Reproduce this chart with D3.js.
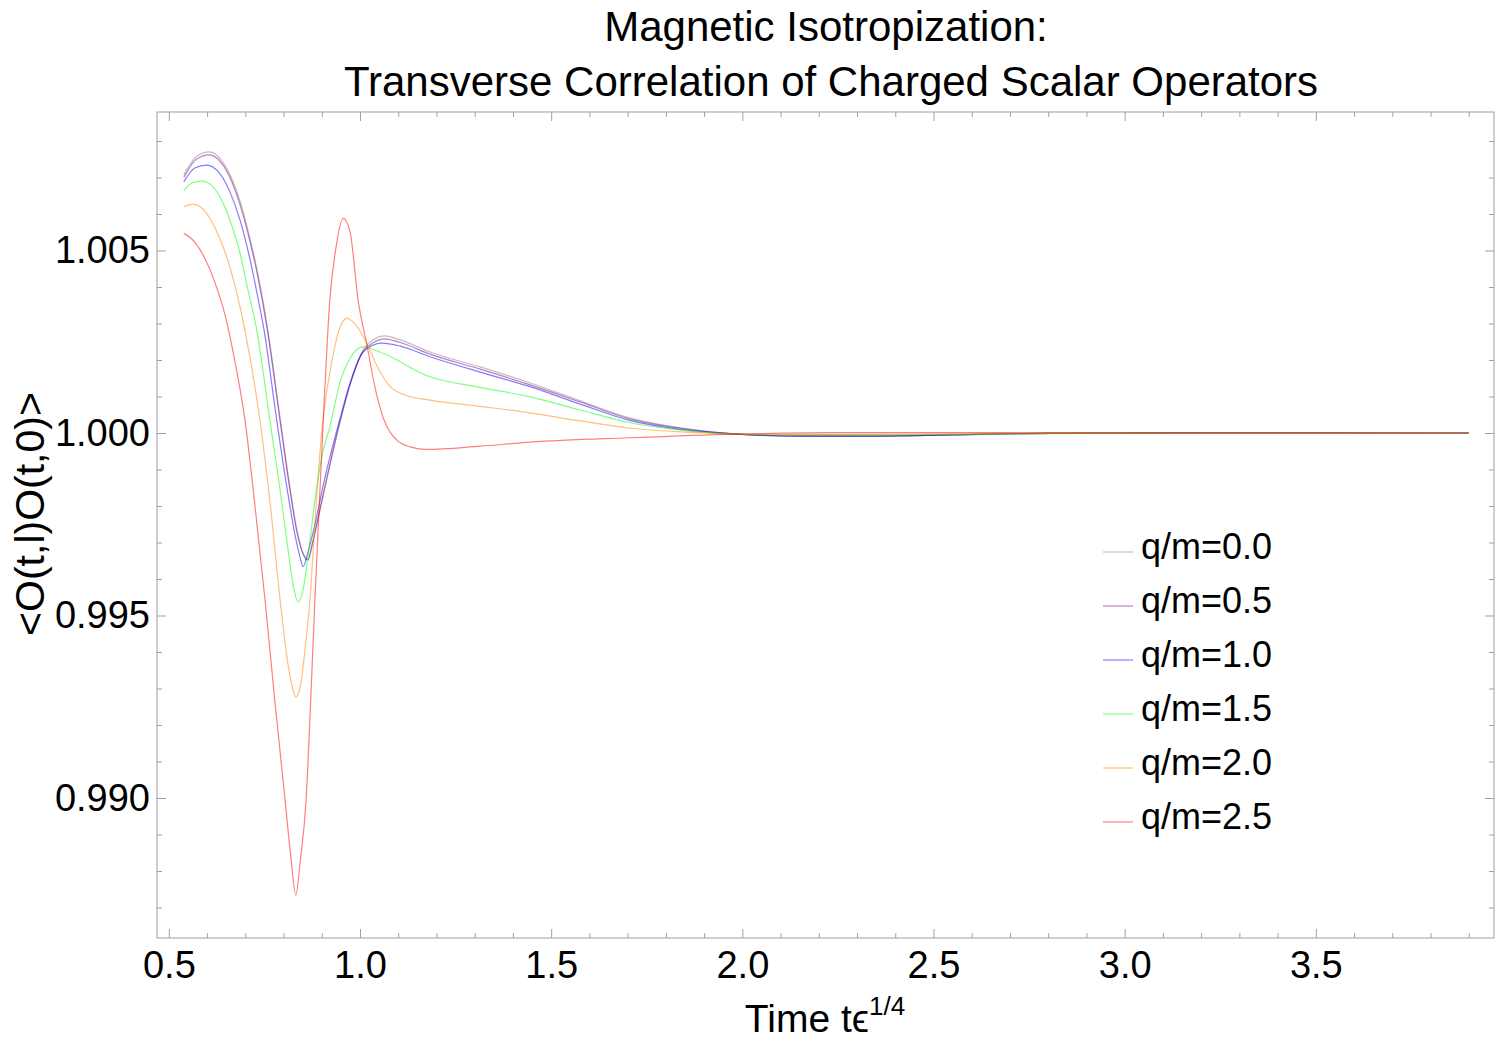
<!DOCTYPE html>
<html>
<head>
<meta charset="utf-8">
<script src="https://cdn.jsdelivr.net/npm/d3@7"></script>
<style>
  html, body { margin: 0; padding: 0; background: #fff; }
  svg { display: block; font-family: "Liberation Sans", Arial, sans-serif; }
</style>
</head>
<body>
<svg id="chart" width="1500" height="1044"></svg>
<script>
// ---------------- data (t, value) ----------------
const seriesNames = ["q/m=0.0", "q/m=0.5", "q/m=1.0", "q/m=1.5", "q/m=2.0", "q/m=2.5"];

const q00 = [
  [0.539,1.00707],[0.571,1.00756],[0.605,1.00770],[0.639,1.00745],[0.665,1.00696],
  [0.686,1.00636],[0.712,1.00534],[0.733,1.00436],[0.759,1.00282],[0.791,1.00041],
  [0.817,0.99849],[0.835,0.99734],[0.851,0.99671],[0.864,0.99652],[0.877,0.99701],
  [0.890,0.99762],[0.914,0.99877],[0.948,1.00030],[0.974,1.00132],[1.008,1.00227],
  [1.034,1.00255],[1.065,1.00266],[1.105,1.00255],[1.183,1.00222],[1.314,1.00181],
  [1.445,1.00137],[1.576,1.00088],[1.707,1.00041],[1.838,1.00014],[1.987,0.99997],
  [2.152,0.99992],[2.361,0.99992],[2.545,0.99995],[2.806,0.99999],[3.199,1.00000],[3.900,1.00000]
];
const q05 = [
  [0.539,1.00700],[0.571,1.00749],[0.605,1.00762],[0.639,1.00738],[0.665,1.00688],
  [0.685,1.00630],[0.711,1.00530],[0.732,1.00432],[0.758,1.00280],[0.790,1.00040],
  [0.816,0.99849],[0.834,0.99734],[0.850,0.99671],[0.863,0.99652],[0.876,0.99701],
  [0.889,0.99762],[0.913,0.99877],[0.947,1.00030],[0.973,1.00130],[1.008,1.00223],
  [1.034,1.00247],[1.065,1.00258],[1.105,1.00248],[1.183,1.00216],[1.314,1.00175],
  [1.445,1.00132],[1.576,1.00085],[1.707,1.00038],[1.838,1.00013],[1.987,0.99997],
  [2.152,0.99992],[2.361,0.99992],[2.545,0.99995],[2.806,0.99999],[3.199,1.00000],[3.900,1.00000]
];
const q10 = [
  [0.539,1.00688],[0.568,1.00726],[0.599,1.00734],[0.634,1.00710],[0.660,1.00660],
  [0.686,1.00584],[0.712,1.00477],[0.730,1.00386],[0.749,1.00282],[0.782,1.00036],
  [0.809,0.99849],[0.830,0.99721],[0.843,0.99660],[0.851,0.99634],[0.864,0.99674],
  [0.880,0.99740],[0.908,0.99877],[0.948,1.00041],[0.974,1.00137],[1.008,1.00222],
  [1.057,1.00246],[1.105,1.00238],[1.183,1.00209],[1.314,1.00167],[1.445,1.00127],
  [1.576,1.00079],[1.707,1.00034],[1.838,1.00010],[1.987,0.99997],[2.152,0.99991],
  [2.361,0.99991],[2.545,0.99995],[2.806,0.99999],[3.199,1.00000],[3.900,1.00000]
];
const q15 = [
  [0.539,1.00663],[0.560,1.00685],[0.586,1.00690],[0.613,1.00677],[0.639,1.00636],
  [0.665,1.00567],[0.686,1.00493],[0.707,1.00392],[0.730,1.00282],[0.764,1.00036],
  [0.791,0.99844],[0.812,0.99679],[0.825,0.99584],[0.838,0.99537],[0.851,0.99570],
  [0.866,0.99679],[0.882,0.99816],[0.901,0.99940],[0.921,1.00017],[0.948,1.00140],
  [0.974,1.00205],[1.008,1.00236],[1.052,1.00222],[1.183,1.00154],[1.314,1.00125],
  [1.445,1.00099],[1.576,1.00063],[1.707,1.00028],[1.838,1.00008],[1.987,0.99997],
  [2.152,0.99995],[2.361,0.99995],[2.675,0.99997],[3.199,1.00000],[3.900,1.00000]
];
const q20 = [
  [0.539,1.00620],[0.563,1.00627],[0.594,1.00608],[0.620,1.00564],[0.647,1.00496],
  [0.673,1.00403],[0.699,1.00282],[0.738,1.00036],[0.764,0.99816],[0.791,0.99542],
  [0.812,0.99364],[0.825,0.99296],[0.832,0.99277],[0.843,0.99301],[0.856,0.99405],
  [0.869,0.99542],[0.885,0.99803],[0.903,1.00036],[0.921,1.00164],[0.942,1.00271],
  [0.965,1.00314],[0.987,1.00299],[1.017,1.00247],[1.047,1.00178],[1.079,1.00127],
  [1.118,1.00104],[1.183,1.00090],[1.314,1.00073],[1.445,1.00055],[1.576,1.00033],
  [1.707,1.00013],[1.838,1.00003],[1.987,0.99997],[2.152,0.99996],[2.414,0.99997],
  [2.806,0.99999],[3.199,1.00000],[3.900,1.00000]
];
const q25 = [
  [0.539,1.00547],[0.568,1.00523],[0.594,1.00479],[0.620,1.00414],[0.647,1.00323],
  [0.673,1.00195],[0.699,1.00036],[0.725,0.99803],[0.751,0.99548],[0.777,0.99268],
  [0.804,0.98995],[0.819,0.98838],[0.832,0.98734],[0.844,0.98830],[0.859,0.98995],
  [0.871,0.99268],[0.882,0.99542],[0.894,0.99816],[0.904,1.00036],[0.921,1.00364],
  [0.937,1.00507],[0.956,1.00588],[0.974,1.00551],[0.995,1.00364],[1.017,1.00247],
  [1.039,1.00126],[1.060,1.00044],[1.096,0.99981],[1.131,0.99962],[1.175,0.99955],
  [1.314,0.99964],[1.445,0.99975],[1.707,0.99987],[1.987,0.99997],[2.230,1.00001],
  [2.675,1.00001],[3.199,1.00001],[3.900,1.00000]
];
const seriesValues = [q00, q05, q10, q15, q20, q25];

const xMajorTicks = [0.5, 1.0, 1.5, 2.0, 2.5, 3.0, 3.5];
const xMinorTicks = d3.range(5, 40).map(d => d / 10).filter(d => !xMajorTicks.includes(d));
const yMajorTicks = [0.990, 0.995, 1.000, 1.005];
const yMinorTicks = d3.range(987, 1009).map(d => d / 1000).filter(d => !yMajorTicks.some(m => Math.abs(m - d) < 1e-9));

const titleLines = ["Magnetic Isotropization:", "Transverse Correlation of Charged Scalar Operators"];
const yLabel = "<O(t,l)O(t,0)>";

// ---------------- styling ----------------
const colors = ["#808080", "#800080", "#0000ff", "#00ff00", "#ff8000", "#ff0000"];
const frameColor = "#a0a0a0";

const margin = { left: 157, right: 1494, top: 112, bottom: 938 };

const svg = d3.select("#chart");

const x = d3.scaleLinear().domain([0.469, 3.966]).range([margin.left, margin.right]);
const y = d3.scaleLinear().domain([0.986164, 1.008795]).range([margin.bottom, margin.top]);

// frame
svg.append("rect")
  .attr("x", margin.left).attr("y", margin.top)
  .attr("width", margin.right - margin.left).attr("height", margin.bottom - margin.top)
  .attr("fill", "none").attr("stroke", frameColor).attr("stroke-width", 1);

function styleAxis(g) {
  g.select(".domain").remove();
  g.selectAll(".tick line").attr("stroke", frameColor);
  g.selectAll(".tick text").attr("fill", "#000").attr("font-size", 38)
    .attr("font-family", "'Liberation Sans', Arial, sans-serif");
}

// bottom
svg.append("g").attr("transform", `translate(0,${margin.bottom})`)
  .call(d3.axisBottom(x).tickValues(xMajorTicks).tickSize(-9).tickPadding(13).tickFormat(d3.format(".1f")))
  .call(styleAxis);
svg.append("g").attr("transform", `translate(0,${margin.bottom})`)
  .call(d3.axisBottom(x).tickValues(xMinorTicks).tickSize(-5).tickFormat(""))
  .call(styleAxis);
// top
svg.append("g").attr("transform", `translate(0,${margin.top})`)
  .call(d3.axisTop(x).tickValues(xMajorTicks).tickSize(-9).tickFormat(""))
  .call(styleAxis);
svg.append("g").attr("transform", `translate(0,${margin.top})`)
  .call(d3.axisTop(x).tickValues(xMinorTicks).tickSize(-5).tickFormat(""))
  .call(styleAxis);
// left
svg.append("g").attr("transform", `translate(${margin.left},0)`)
  .call(d3.axisLeft(y).tickValues(yMajorTicks).tickSize(-9).tickPadding(7).tickFormat(d3.format(".3f")))
  .call(styleAxis);
svg.append("g").attr("transform", `translate(${margin.left},0)`)
  .call(d3.axisLeft(y).tickValues(yMinorTicks).tickSize(-5).tickFormat(""))
  .call(styleAxis);
// right
svg.append("g").attr("transform", `translate(${margin.right},0)`)
  .call(d3.axisRight(y).tickValues(yMajorTicks).tickSize(-9).tickFormat(""))
  .call(styleAxis);
svg.append("g").attr("transform", `translate(${margin.right},0)`)
  .call(d3.axisRight(y).tickValues(yMinorTicks).tickSize(-5).tickFormat(""))
  .call(styleAxis);

// curves
const line = d3.line().x(d => x(d[0])).y(d => y(d[1])).curve(d3.curveMonotoneX);
const plot = svg.append("g");
seriesValues.forEach((s, i) => {
  plot.append("path").datum(s)
    .attr("d", line)
    .attr("fill", "none")
    .attr("stroke", colors[i])
    .attr("stroke-opacity", 0.5)
    .attr("stroke-width", 1.2);
});

// legend
const legend = svg.append("g");
seriesNames.forEach((name, i) => {
  const ly = 552 + i * 54;
  legend.append("line")
    .attr("x1", 1103).attr("x2", 1133).attr("y1", ly).attr("y2", ly)
    .attr("stroke", colors[i]).attr("stroke-opacity", 0.5).attr("stroke-width", 1.2);
  legend.append("text")
    .attr("x", 1141).attr("y", ly + 7)
    .attr("font-size", 36).attr("fill", "#000")
    .text(name);
});

// title
svg.append("text").attr("x", 826).attr("y", 41).attr("text-anchor", "middle")
  .attr("font-size", 42).attr("fill", "#000").text(titleLines[0]);
svg.append("text").attr("x", 831).attr("y", 96).attr("text-anchor", "middle")
  .attr("font-size", 42).attr("fill", "#000").text(titleLines[1]);

// axis labels
const xl = svg.append("text").attr("x", 825).attr("y", 1032).attr("text-anchor", "middle")
  .attr("font-size", 39).attr("fill", "#000");
xl.append("tspan").text("Time t\u03F5");
xl.append("tspan").attr("dy", -17).attr("font-size", 26).text("1/4");

svg.append("text")
  .attr("transform", "translate(44,514) rotate(-90)")
  .attr("text-anchor", "middle")
  .attr("font-size", 41).attr("fill", "#000")
  .text(yLabel);
</script>
</body>
</html>
